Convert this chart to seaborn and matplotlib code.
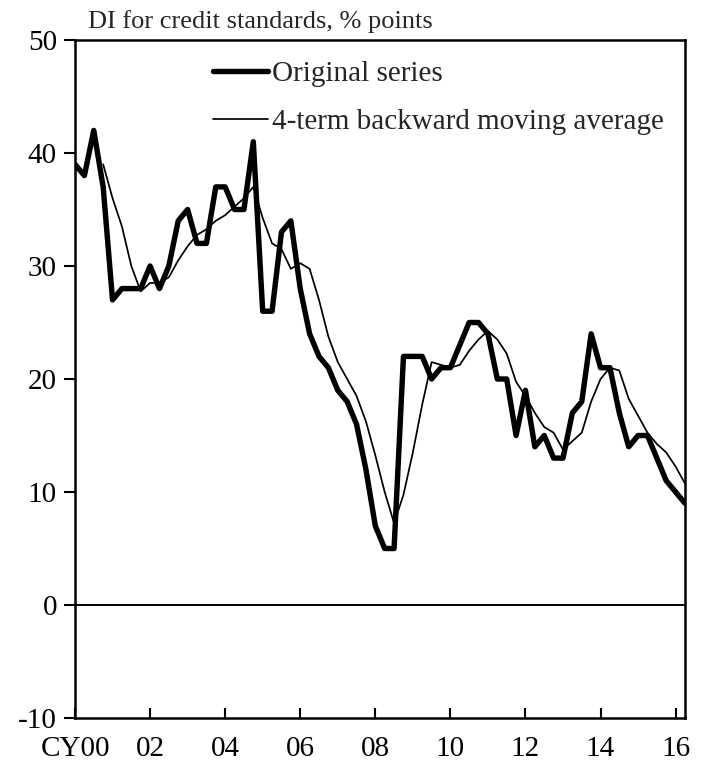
import numpy as np
import pandas as pd
import matplotlib
matplotlib.use("Agg")
import matplotlib.pyplot as plt
import seaborn as sns

# DI for credit standards, quarterly from CY2000 Q1
original = [39, 38, 42, 37, 27, 28, 28, 28, 30, 28, 30, 34, 35, 32, 32, 37,
            37, 35, 35, 41, 26, 26, 33, 34, 28, 24, 22, 21, 19, 18, 16, 12,
            7, 5, 5, 22, 22, 22, 20, 21, 21, 23, 25, 25, 24, 20, 20, 15,
            19, 14, 15, 13, 13, 17, 18, 24, 21, 21, 17, 14, 15, 15, 13, 11,
            10, 9]

# 4-term backward moving average (first three quarters empty)
moving_avg = [np.nan, np.nan, np.nan,
              39, 36, 33.5, 30, 27.75, 28.5, 28.5, 29, 30.5, 31.75, 32.75, 33.25,
              34, 34.5, 35.25, 36, 37, 34.25, 32, 31.5, 29.75, 30.25, 29.75, 27,
              23.75, 21.5, 20, 18.5, 16.25, 13.25, 10, 7.25, 9.75, 13.5, 17.75,
              21.5, 21.25, 21, 21.25, 22.5, 23.5, 24.25, 23.5, 22.25, 19.75, 18.5,
              17, 15.75, 15.25, 13.75, 14.5, 15.25, 18, 20, 21, 20.75, 18.25,
              16.75, 15.25, 14.25, 13.5, 12.25, 10.75]

year_labels = ["CY00", "02", "04", "06", "08", "10", "12", "14", "16"]
y_ticks = [-10, 0, 10, 20, 30, 40, 50]

data = pd.DataFrame({"quarter": np.arange(len(original)),
                     "original": original,
                     "ma": moving_avg})

sns.set_style("white")
plt.rcParams['font.family'] = ['Liberation Serif', 'DejaVu Serif']

fig = plt.figure(figsize=(7.07, 7.67), dpi=100)
ax = fig.add_axes([75/707, 1-718/767, 610/707, 678/767])

ax.axhline(0, color="black", linewidth=1.4, zorder=1)

sns.lineplot(x="quarter", y="original", data=data, ax=ax, color="black",
             linewidth=3.9, label="Original series")
sns.lineplot(x="quarter", y="ma", data=data, ax=ax, color="black",
             linewidth=1.25, label="4-term backward moving average")

ax.set_xlim(0, len(original) - 1)
ax.set_ylim(-10, 50)
ax.set_xticks(np.arange(0, len(original), 8))
ax.set_xticklabels(year_labels)
ax.set_yticks(y_ticks)
ax.set_yticklabels([str(v) for v in y_ticks])
ax.set_xlabel("")
ax.set_ylabel("")

for sp in ax.spines.values():
    sp.set_visible(True)
    sp.set_color("black")
    sp.set_linewidth(1.8)

ax.tick_params(axis="y", direction="out", length=8, width=1.5, left=True,
               labelsize=21, pad=5, colors="black")
ax.tick_params(axis="x", direction="in", length=7, width=1.5, bottom=True,
               labelsize=21, pad=13, colors="black")

ax.legend(loc="upper left", bbox_to_anchor=((213-75)/610, (718-61)/678),
          frameon=False, fontsize=21, handlelength=1.9, handletextpad=0.14,
          labelspacing=0.74, borderpad=0, borderaxespad=0)

fig.text(88/707, 1-22/767, "DI for credit standards, % points",
         fontsize=19, va="center", ha="left")

fig.savefig("out.png", dpi=100)
